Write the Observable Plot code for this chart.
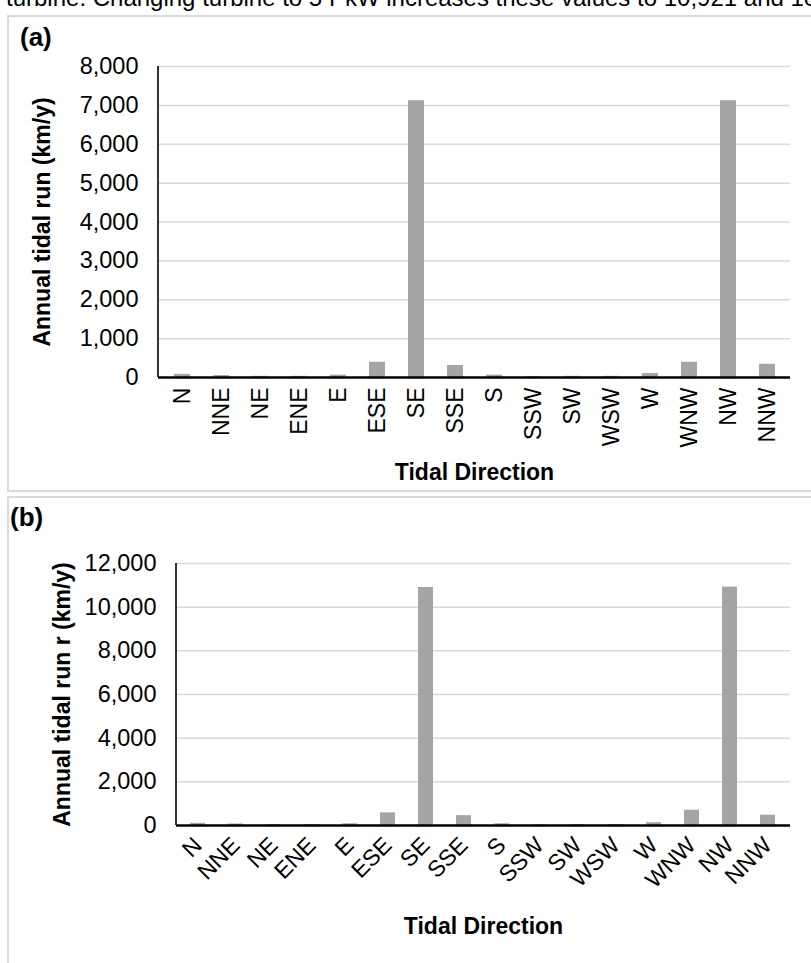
<!DOCTYPE html>
<html>
<head>
<meta charset="utf-8">
<script src="https://cdn.jsdelivr.net/npm/d3@7"></script>
<script src="https://cdn.jsdelivr.net/npm/@observablehq/plot@0.6"></script>
<style>
  html, body { margin: 0; padding: 0; background: #fff; }
  #page { position: relative; width: 811px; height: 963px; overflow: hidden;
          font-family: "Liberation Sans", Arial, sans-serif; color: #000; }
  .lead { position: absolute; left: 6px; top: -14px; font-size: 24px; line-height: 1; white-space: nowrap; }
  .panel { position: absolute; left: 7px; width: 830px; border: 2px solid #d9d9d9; box-sizing: border-box; }
  #panelA { top: 15px; height: 477px; }
  #panelB { top: 496px; height: 500px; }
  .tag { position: absolute; font-weight: bold; font-size: 26px; line-height: 1; }
  .chart { position: absolute; left: 0; }
</style>
</head>
<body>
<div id="page">
  <div class="lead">turbine. Changing turbine to 5 PkW increases these values to 10,921 and 10,921 km/y.</div>
  <div class="panel" id="panelA"></div>
  <div class="panel" id="panelB"></div>
  <div class="tag" style="left:20px; top:24px;">(a)</div>
  <div class="tag" style="left:10px; top:504px;">(b)</div>
  <div class="chart" id="chartA" style="top:0px;"></div>
  <div class="chart" id="chartB" style="top:491px;"></div>
</div>
<script>
// Sixteen compass directions of the tidal flow
const directions = ["N", "NNE", "NE", "ENE", "E", "ESE", "SE", "SSE", "S", "SSW", "SW", "WSW", "W", "WNW", "NW", "NNW"];

// (a) annual tidal run per direction, km/y
const runA = [80, 50, 30, 30, 60, 390, 7120, 310, 60, 20, 30, 30, 100, 390, 7120, 340];
// (b) annual tidal run per direction with the larger turbine, km/y
const runB = [100, 70, 40, 40, 80, 580, 10900, 450, 80, 30, 40, 40, 130, 700, 10920, 470];

// y-axis tick values
const yTicksA = [0, 1000, 2000, 3000, 4000, 5000, 6000, 7000, 8000];
const yTicksB = [0, 2000, 4000, 6000, 8000, 10000, 12000];

const xTitle = "Tidal Direction";
const yTitleA = "Annual tidal run (km/y)";
const yTitleB = "Annual tidal run r (km/y)";

const barColor = "#a5a5a5";
const gridColor = "#d9d9d9";
const fontFamily = "'Liberation Sans', Arial, sans-serif";

// vertical axis line at the left edge of the frame
function leftAxisLine(yMax) {
  return (index, scales, values, dimensions) =>
    d3.create("svg:line")
      .attr("x1", dimensions.marginLeft).attr("x2", dimensions.marginLeft)
      .attr("y1", scales.y(0)).attr("y2", scales.y(yMax))
      .attr("stroke", "#000").attr("stroke-width", 1.6)
      .node();
}

function tidalChart({values, yTicks, yTitle, height, marginTop, marginBottom, marginLeft,
                     tickRotate, xTickPadding, xTitleDy, yTitleDx}) {
  const rows = directions.map((d, i) => ({dir: d, run: values[i]}));
  const yMax = yTicks[yTicks.length - 1];
  return Plot.plot({
    width: 811,
    height,
    marginTop,
    marginBottom,
    marginLeft,
    marginRight: 21,
    style: {fontFamily, color: "#000", background: "transparent", overflow: "visible"},
    x: {type: "band", domain: directions, paddingInner: 0.6, paddingOuter: 0.3, axis: null},
    y: {domain: [0, yMax], axis: null},
    marks: [
      Plot.gridY(yTicks.filter(t => t > 0), {stroke: gridColor, strokeOpacity: 1, strokeWidth: 1.5}),
      Plot.barY(rows, {x: "dir", y: "run", fill: barColor}),
      Plot.ruleY([0], {stroke: "#000", strokeWidth: 2.6}),
      leftAxisLine(yMax),
      Plot.axisY(yTicks, {tickSize: 0, tickPadding: 20, tickFormat: d3.format(","), fontSize: 23.5, label: null}),
      Plot.axisX({tickSize: 0, tickRotate, tickPadding: xTickPadding, fontSize: 23, label: null}),
      Plot.text([xTitle], {frameAnchor: "bottom", dy: xTitleDy, fontSize: 23, fontWeight: "bold"}),
      Plot.text([yTitle], {frameAnchor: "left", dx: yTitleDx, rotate: -90, textAnchor: "middle",
                           fontSize: 23, fontWeight: "bold"})
    ]
  });
}

document.getElementById("chartA").append(tidalChart({
  values: runA, yTicks: yTicksA, yTitle: yTitleA,
  height: 491, marginTop: 66, marginBottom: 114, marginLeft: 158,
  tickRotate: -90, xTickPadding: 10, xTitleDy: 102, yTitleDx: -116
}));

document.getElementById("chartB").append(tidalChart({
  values: runB, yTicks: yTicksB, yTitle: yTitleB,
  height: 472, marginTop: 72, marginBottom: 138, marginLeft: 176,
  tickRotate: -45, xTickPadding: 16, xTitleDy: 108, yTitleDx: -114
}));
</script>
</body>
</html>
